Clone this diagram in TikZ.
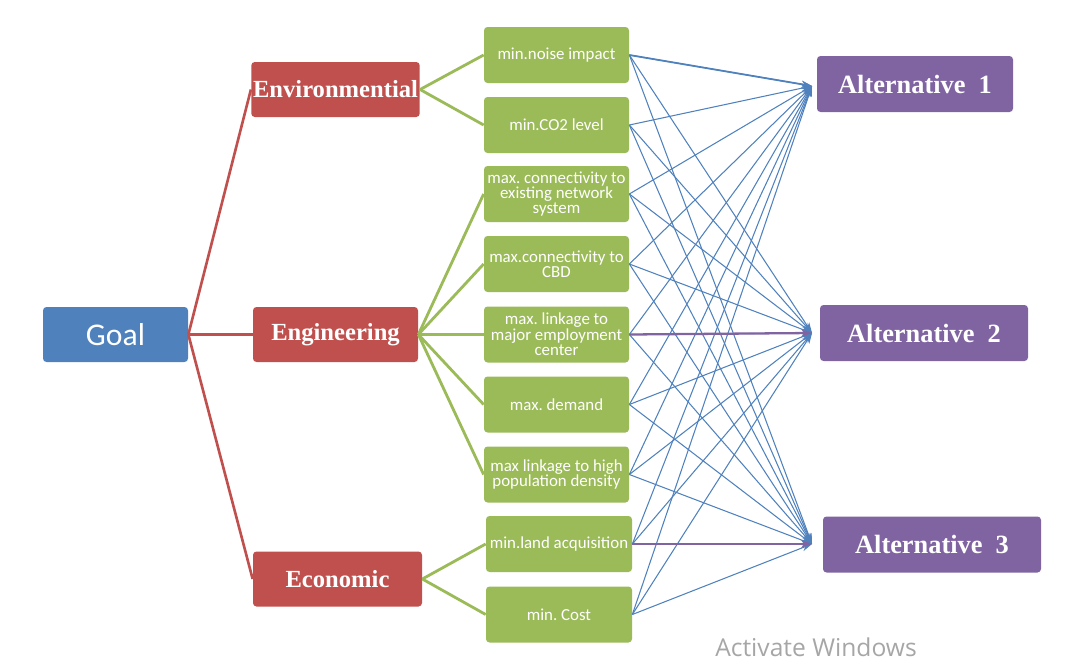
\documentclass[tikz,border=0pt]{standalone}
\usepackage{fontspec}
\setmainfont{Liberation Serif}
\newfontfamily\calib{Carlito}
\newfontfamily\winfont{Open Sans}
\usetikzlibrary{arrows.meta}
\frenchspacing

\definecolor{goalblue}{RGB}{79,129,189}
\definecolor{critred}{RGB}{192,80,77}
\definecolor{subgreen}{RGB}{155,187,89}
\definecolor{altpurple}{RGB}{128,100,162}
\definecolor{linkblue}{RGB}{79,129,189}

\tikzset{
	box/.style={rectangle, rounded corners=2pt, text=white, minimum height=1.1cm, inner sep=1pt, align=center},
	goalbox/.style={box, fill=goalblue, minimum width=2.9cm, font=\calib\fontsize{18}{20}\selectfont},
	critbox/.style={box, fill=critred, minimum width=3.3cm, font=\bfseries\fontsize{14}{16}\selectfont},
	subbox/.style={box, fill=subgreen, minimum width=2.9cm, minimum height=1.12cm, inner sep=0pt, font=\calib\fontsize{9.6}{8.8}\selectfont},
	altbox/.style={box, fill=altpurple, minimum height=1.12cm, font=\bfseries\fontsize{15}{17}\selectfont},
	goalline/.style={critred, line width=1.5pt},
	subline/.style={subgreen, line width=1.6pt},
	link/.style={linkblue, line width=0.6pt, -{Stealth[length=6pt,width=4pt]}},
}

\begin{document}
\begin{tikzpicture}[x=2mm, y=-2mm]
	\useasboundingbox (0,0) rectangle (107.5,66.1);

	% goal and criteria
	\node[goalbox] (goal) at (11.55,33.45) {Goal};
	\node[critbox] (env) at (33.55,8.95) {Environmential};
	\node[critbox] (eng) at (33.55,33.45) {Engineering};
	\node[critbox, minimum width=3.38cm] (eco) at (33.75,57.9) {Economic};

	% sub-criteria
	\node[subbox] (noise) at (55.65,5.5) {min.noise impact};
	\node[subbox] (co2) at (55.65,12.5) {min.CO2 level};
	\node[subbox] (netw) at (55.65,19.4) {max. connectivity to\\existing network\\system};
	\node[subbox] (cbd) at (55.65,26.4) {max.connectivity to\\CBD};
	\node[subbox] (employ) at (55.65,33.45) {max. linkage to\\major employment\\center};
	\node[subbox] (demand) at (55.65,40.45) {max. demand};
	\node[subbox] (popd) at (55.65,47.45) {max linkage to high\\population density};
	\node[subbox, minimum width=2.92cm] (land) at (55.9,54.4) {min.land acquisition};
	\node[subbox, minimum width=2.92cm] (cost) at (55.9,61.45) {min. Cost};

	% alternatives
	\node[altbox, minimum width=3.92cm] (alt1) at (91.5,8.4) {Alternative\ \ 1};
	\node[altbox, minimum width=4.16cm] (alt2) at (92.4,33.3) {Alternative\ \ 2};
	\node[altbox, minimum width=4.36cm] (alt3) at (93.2,54.45) {Alternative\ \ 3};

	\coordinate (in1) at (81.2,8.6);
	\coordinate (in2) at (81.2,33.3);
	\coordinate (in3) at (81.2,54.4);

	\draw[goalline] (goal.east) -- (env.west);
	\draw[goalline] (goal.east) -- (eng.west);
	\draw[goalline] (goal.east) -- (eco.west);

	\foreach \s in {noise,co2}
		\draw[subline] (env.east) -- (\s.west);
	\foreach \s in {netw,cbd,employ,demand,popd}
		\draw[subline] (eng.east) -- (\s.west);
	\foreach \s in {land,cost}
		\draw[subline] (eco.east) -- (\s.west);

	% every sub-criterion to every alternative
	\foreach \s in {noise,co2,netw,cbd,employ,demand,popd,land,cost}
		\foreach \a in {1,2,3}
			\draw[link] (\s.east) -- (in\a);

	\draw[link, line width=1pt] (noise.east) -- (in1);
	\draw[link, draw=altpurple, line width=1.3pt] (employ.east) -- (in2);
	\draw[link, draw=altpurple, line width=1.3pt] (land.east) -- (in3);

	\node[text=black!35, font=\winfont\fontsize{14}{16}\selectfont] (watermark) at (81.6,64.7) {Activate Windows};
\end{tikzpicture}
\end{document}
